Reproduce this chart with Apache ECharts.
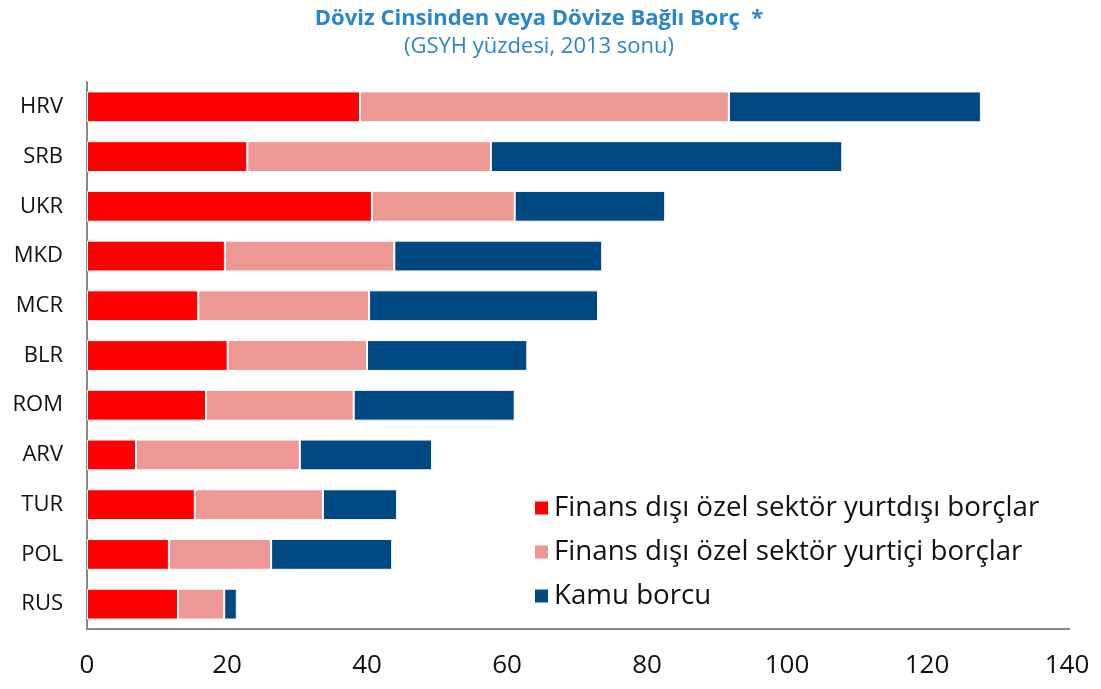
<!DOCTYPE html>
<html>
<head>
<meta charset="utf-8">
<script src="https://cdn.jsdelivr.net/npm/echarts@6/dist/echarts.min.js"></script>
<style>
  html, body { margin: 0; padding: 0; background: #fff; }
  #main { width: 1101px; height: 689px; }
</style>
</head>
<body>
<div id="main"></div>
<script>
// ulkeler (yukaridan asagiya)
var ulkeler = ['HRV', 'SRB', 'UKR', 'MKD', 'MCR', 'BLR', 'ROM', 'ARV', 'TUR', 'POL', 'RUS'];
var seriAdlari = ['Finans dışı özel sektör yurtdışı borçlar', 'Finans dışı özel sektör yurtiçi borçlar', 'Kamu borcu'];
var yurtdisi = [39.0, 22.9, 40.7, 19.7, 15.9, 20.1, 17.0, 7.0, 15.4, 11.7, 13.0];
var yurtici  = [52.7, 34.8, 20.4, 24.2, 24.4, 19.9, 21.1, 23.4, 18.3, 14.6, 6.6];
var kamu     = [36.0, 50.2, 21.5, 29.7, 32.7, 22.9, 23.0, 18.9, 10.6, 17.3, 1.8];
var renkler = ['#ff0000', '#ee9895', '#004882'];

(function(){
    var dom = document.getElementById('main');
    var myChart = echarts.init(dom);
    var veriler = [yurtdisi, yurtici, kamu];

    var series = seriAdlari.map(function (ad, i) {
        return {
            name: ad,
            type: 'bar',
            stack: 'toplam',
            barWidth: '62%',
            data: veriler[i],
            itemStyle: { color: renkler[i], borderColor: '#fff', borderWidth: 1 }
        };
    });

    var option = {
        backgroundColor: '#fff',
        animation: false,
        title: {
            text: 'Döviz Cinsinden veya Dövize Bağlı Borç  *',
            subtext: '(GSYH yüzdesi, 2013 sonu)',
            left: 534,
            textAlign: 'center',
            top: 3,
            itemGap: 6,
            textStyle: { color: '#2a86c9', fontSize: 22, fontWeight: 'bold', fontFamily: 'Open Sans' },
            subtextStyle: { color: '#2a86c9', fontSize: 22, fontFamily: 'Open Sans' }
        },
        legend: {
            orient: 'vertical',
            left: 528,
            top: 489,
            itemWidth: 15,
            itemHeight: 15,
            itemGap: 16,
            icon: 'rect',
            data: seriAdlari,
            textStyle: { fontSize: 27.7, lineHeight: 28, color: '#111', fontFamily: 'Open Sans' }
        },
        grid: { left: 87, right: 34, top: 82, bottom: 60 },
        xAxis: {
            type: 'value',
            min: 0,
            max: 140,
            interval: 20,
            axisLine: { show: false },
            axisTick: { show: false },
            splitLine: { show: false },
            axisLabel: { fontSize: 26, color: '#111', margin: 24, fontFamily: 'Open Sans' }
        },
        yAxis: {
            type: 'category',
            inverse: true,
            data: ulkeler,
            axisLine: { show: true, lineStyle: { color: '#888', width: 2 } },
            axisTick: { show: false },
            axisLabel: { fontSize: 22, color: '#111', margin: 24, fontFamily: 'Open Sans' }
        },
        graphic: [{
            type: 'line',
            shape: { x1: 86, y1: 629, x2: 1070, y2: 629 },
            style: { stroke: '#888', lineWidth: 2 }
        }],
        series: series
    };
    myChart.setOption(option, true);
})();
</script>
</body>
</html>
